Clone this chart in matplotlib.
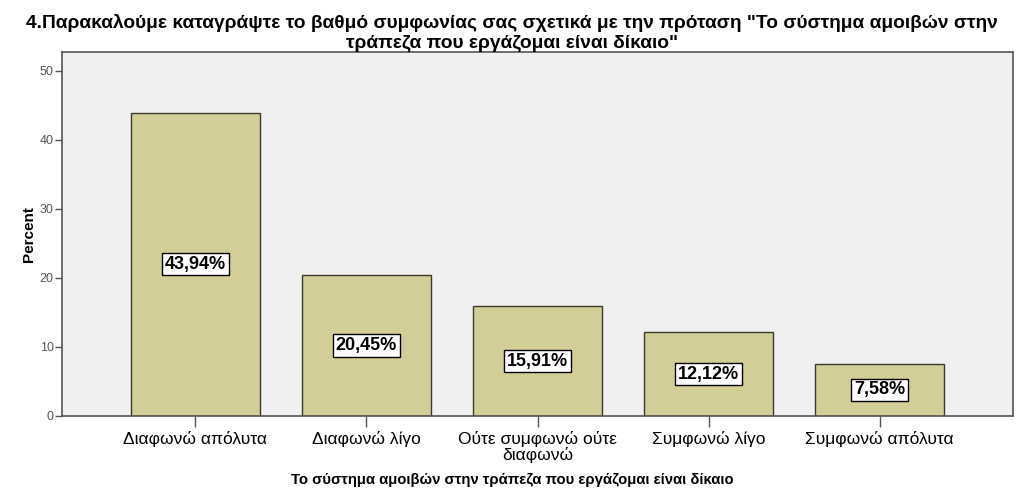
import matplotlib.pyplot as plt

categories = ["Διαφωνώ απόλυτα", "Διαφωνώ λίγο", "Ούτε συμφωνώ ούτε\nδιαφωνώ",
              "Συμφωνώ λίγο", "Συμφωνώ απόλυτα"]
percent = [43.94, 20.45, 15.91, 12.12, 7.58]
labels = ["43,94%", "20,45%", "15,91%", "12,12%", "7,58%"]

plt.rcParams['font.family'] = ['Liberation Sans', 'DejaVu Sans']

fig = plt.figure(figsize=(10.24, 5.01), dpi=100)
ax = fig.add_axes([62 / 1024, 1 - 416 / 501, (1013 - 62) / 1024, (416 - 52) / 501])
ax.set_facecolor("#F0F0F0")

x = range(len(categories))
ax.bar(x, percent, width=0.755, color="#D3CE97", edgecolor="#3A3A2A", linewidth=1.0, zorder=2)

for i, (v, lab) in enumerate(zip(percent, labels)):
    ax.text(i, v / 2, lab, ha="center", va="center", fontsize=13, fontweight="bold",
            bbox=dict(boxstyle="square,pad=0.15", facecolor="white", edgecolor="black", linewidth=1),
            zorder=3)

ax.set_xlim(-0.78, 4.78)
ax.set_ylim(0, 52.7)
ax.set_yticks([0, 10, 20, 30, 40, 50])
ax.set_xticks(list(x))
ax.set_xticklabels(categories, fontsize=12.5, linespacing=0.95)
ax.tick_params(axis="y", labelsize=9, labelcolor="#555555", length=5, width=1, color="#555555", pad=1)
ax.tick_params(axis="x", length=8, width=1, color="#555555", pad=3)

for s in ax.spines.values():
    s.set_color("#555555")
    s.set_linewidth(1.2)

ax.set_ylabel("Percent", fontsize=11, fontweight="bold", labelpad=3)
ax.set_xlabel("Το σύστημα αμοιβών στην τράπεζα που εργάζομαι είναι δίκαιο",
              fontsize=10.7, fontweight="bold")
ax.xaxis.set_label_coords(0.473, -0.157)

fig.text(0.5, 1 - 14 / 501, '4.Παρακαλούμε καταγράψτε το βαθμό συμφωνίας σας σχετικά με την πρόταση "Το σύστημα αμοιβών στην\nτράπεζα που εργάζομαι είναι δίκαιο"',
         ha="center", va="top", fontsize=13.8, fontweight="bold", linespacing=1.2)

fig.savefig("out.png", dpi=100)
